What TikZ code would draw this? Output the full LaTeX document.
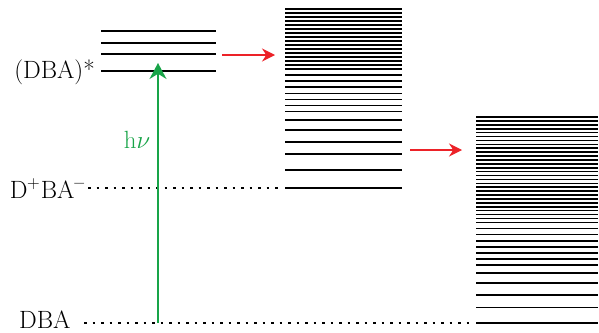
\documentclass[tikz,border=0pt]{standalone}
\usepackage{tikz}
\usetikzlibrary{arrows.meta}
\usetikzlibrary{positioning}
\definecolor{photon}{RGB}{24,164,72}
\definecolor{hop}{RGB}{236,34,40}
\tikzset{level line/.style={line width=1.6pt}}
\tikzset{state label/.style={inner sep=0pt,font=\fontsize{25}{30}\selectfont}}
\tikzset{guide/.style={line width=1.5pt,dash pattern=on 2.5pt off 6pt}}
\tikzset{hop arrow/.style={-{Stealth[length=13pt,width=13pt]},line width=1.4pt,hop}}
\tikzset{photon arrow/.style={-{Stealth[length=16pt,width=17pt]},line width=1.6pt,photon}}

\begin{document}
\begin{tikzpicture}[x=1pt,y=-1pt]
    \useasboundingbox (0,0) rectangle (599,332);

    % excited levels
    \foreach \y in {31,43,54,71}
        \draw[level line] (101,\y) -- (216,\y);
    % middle band
    \foreach \y in {9,13,...,69,75,81,87,93.5,99.5,105.5,111.5,120,130,142,154,170,188}
        \draw[level line] (285,\y) -- (402,\y);
    % right band
    \foreach \y in {117,120.9,...,223}
        \draw[level line] (476,\y) -- (598,\y);
    \foreach \y in {228.3,234.5,240.7,246.7,252.7,258.7,264.7,273,283,295,307.3,322.7}
        \draw[level line] (476,\y) -- (598,\y);

    \node[state label,anchor=base east] (dba star) at (95,78) {(DBA)*};
    \node[state label,anchor=base east] (ion pair) at (85,198) {D\kern-0.5pt\textsuperscript{+}\kern0.5pt BA\textsuperscript{\textbf{--}}};
    \node[state label,anchor=base west,text depth=0pt] (dba) at (19,328) {DBA};

    \coordinate (ion start) at (88,188);
    \coordinate (ion end) at (282,188);
    \coordinate (gs start) at (84,323);
    \coordinate (gs end) at (472,323);
    \coordinate (gs foot) at (158,323);
    \coordinate (ex top) at (158,63);
    \coordinate (hop1 a) at (222,55);
    \coordinate (hop1 b) at (275,55);
    \coordinate (hop2 a) at (410,150);
    \coordinate (hop2 b) at (462,150);

    \draw[guide] (ion start) -- (ion end);
    \draw[guide] (gs start) -- (gs end);

    \draw[photon arrow] (gs foot) -- (ex top);
    \node[state label,photon] (hnu) at (137,140) {$\mathrm{h}\nu$};

    \draw[hop arrow] (hop1 a) -- (hop1 b);
    \draw[hop arrow] (hop2 a) -- (hop2 b);
\end{tikzpicture}
\end{document}
